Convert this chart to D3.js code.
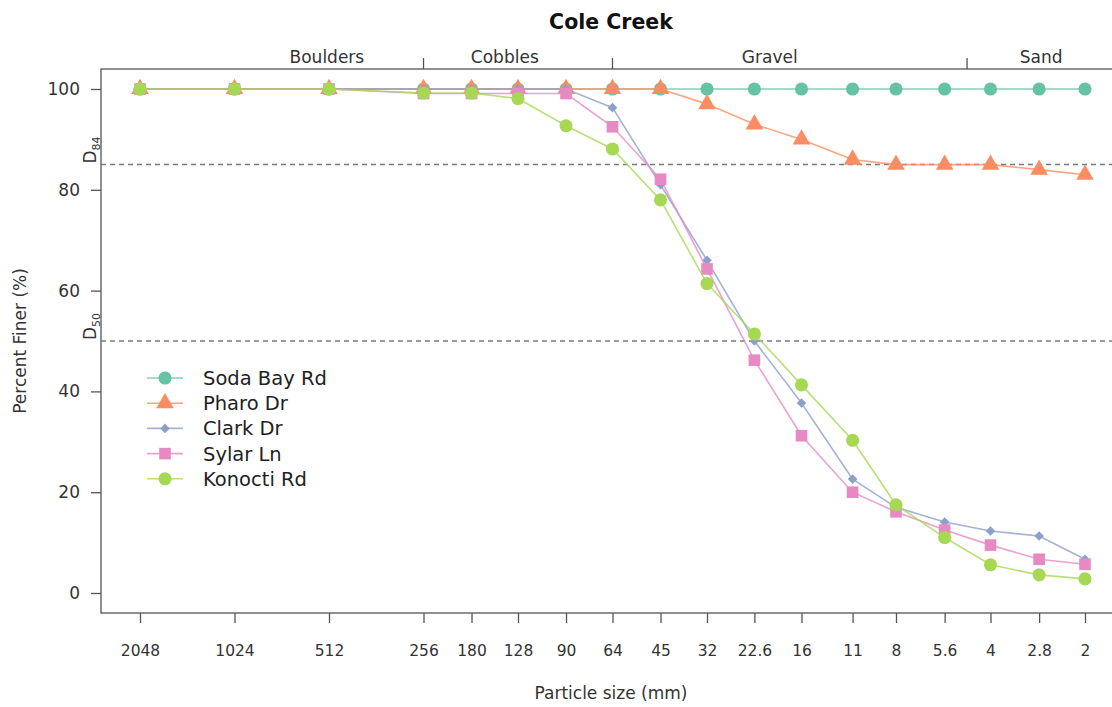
<!DOCTYPE html>
<html>
<head>
<meta charset="utf-8">
<script src="https://cdn.jsdelivr.net/npm/d3@7"></script>
<style>
  html, body { margin: 0; padding: 0; background: #fff; }
  svg { display: block; font-family: "DejaVu Sans", sans-serif; }
</style>
</head>
<body>
<svg id="chart" width="1112" height="707"></svg>
<script>
// Sieve sizes (mm), coarse to fine
const sizes = [2048, 1024, 512, 256, 180, 128, 90, 64, 45, 32, 22.6, 16, 11, 8, 5.6, 4, 2.8, 2];
const sizeLabels = ["2048", "1024", "512", "256", "180", "128", "90", "64", "45", "32", "22.6", "16", "11", "8", "5.6", "4", "2.8", "2"];

// Cumulative percent finer at each sieve, per site
const sodaBayRd = [100, 100, 100, 100, 100, 100, 100, 100, 100, 100, 100, 100, 100, 100, 100, 100, 100, 100];
const pharoDr   = [100, 100, 100, 100, 100, 100, 100, 100, 100, 97, 93, 90, 86, 85, 85, 85, 84, 83];
const clarkDr   = [100, 100, 100, 100, 100, 100, 100, 96.3, 81, 66, 50, 37.7, 22.6, 17, 14.1, 12.3, 11.3, 6.7];
const sylarLn   = [100, 100, 100, 99.1, 99.1, 99.1, 99.1, 92.5, 82.1, 64.3, 46.2, 31.2, 20, 16.1, 12.5, 9.5, 6.7, 5.7];
const konoctiRd = [100, 100, 100, 99.2, 99.2, 98.1, 92.7, 88.1, 78, 61.4, 51.4, 41.3, 30.3, 17.5, 11, 5.6, 3.6, 2.8];

const siteNames = ["Soda Bay Rd", "Pharo Dr", "Clark Dr", "Sylar Ln", "Konocti Rd"];
const siteValues = [sodaBayRd, pharoDr, clarkDr, sylarLn, konoctiRd];
const siteColors = ["#66c2a5", "#fc8d62", "#8da0cb", "#e78ac3", "#a6d854"];
const siteShapes = ["circle", "triangle", "diamond", "square", "circle"];

// Size classes along the top edge
const classBreaks = [256, 64, 4.75];
const classNames = ["Boulders", "Cobbles", "Gravel", "Sand"];
const classLabelAt = [520, 141, 20.2, 2.76];

// Reference percentiles
const refLevels = [85, 50];
const refNames = [["D", "84"], ["D", "50"]];

const yTicks = [0, 20, 40, 60, 80, 100];

const svg = d3.select("#chart");
const axisColor = "#555";
const textColor = "#333";

const box = { left: 101, top: 69, bottom: 613, right: 1125 };

const x = d3.scaleLog().domain([2048, 2]).range([140, 1085]);
const y = d3.scaleLinear().domain([0, 100]).range([593, 89]);

// Plot frame
svg.append("rect")
  .attr("x", box.left).attr("y", box.top)
  .attr("width", box.right - box.left).attr("height", box.bottom - box.top)
  .attr("fill", "none").attr("stroke", axisColor).attr("stroke-width", 1.3);

// Title
svg.append("text")
  .attr("x", 611).attr("y", 29)
  .attr("text-anchor", "middle")
  .attr("font-size", 20.5).attr("font-weight", "bold").attr("fill", "#111")
  .text("Cole Creek");

// Bottom axis
const xAxis = d3.axisBottom(x)
  .tickValues(sizes)
  .tickFormat((d, i) => sizeLabels[i])
  .tickSize(10).tickSizeOuter(0).tickPadding(22);
const gx = svg.append("g").attr("transform", `translate(0,${box.bottom})`).call(xAxis);
gx.select(".domain").remove();
gx.selectAll(".tick line").attr("stroke", axisColor).attr("stroke-width", 1.3);
gx.selectAll(".tick text").attr("fill", textColor).attr("font-size", 15.5)
  .attr("font-family", "DejaVu Sans, sans-serif");

// Left axis
const yAxis = d3.axisLeft(y).tickValues(yTicks).tickSize(10).tickSizeOuter(0).tickPadding(11);
const gy = svg.append("g").attr("transform", `translate(${box.left},0)`).call(yAxis);
gy.select(".domain").remove();
gy.selectAll(".tick line").attr("stroke", axisColor).attr("stroke-width", 1.3);
gy.selectAll(".tick text").attr("fill", textColor).attr("font-size", 17)
  .attr("font-family", "DejaVu Sans, sans-serif");

// Axis titles
svg.append("text")
  .attr("x", 611).attr("y", 699)
  .attr("text-anchor", "middle").attr("font-size", 17).attr("fill", textColor)
  .text("Particle size (mm)");
svg.append("text")
  .attr("transform", "translate(26,341) rotate(-90)")
  .attr("text-anchor", "middle").attr("font-size", 17).attr("fill", textColor)
  .text("Percent Finer (%)");

// Size class ticks and names above the frame
svg.append("g").selectAll("line").data(classBreaks).join("line")
  .attr("x1", d => x(d)).attr("x2", d => x(d))
  .attr("y1", box.top - 11).attr("y2", box.top)
  .attr("stroke", axisColor).attr("stroke-width", 1.3);
svg.append("g").selectAll("text").data(classNames).join("text")
  .attr("x", (d, i) => x(classLabelAt[i])).attr("y", 63)
  .attr("text-anchor", "middle").attr("font-size", 17).attr("fill", textColor)
  .text(d => d);

// Percentile reference lines
svg.append("g").selectAll("line").data(refLevels).join("line")
  .attr("x1", box.left).attr("x2", box.right)
  .attr("y1", d => y(d)).attr("y2", d => y(d))
  .attr("stroke", "#7a7a7a").attr("stroke-width", 1.5)
  .attr("stroke-dasharray", "5,4");
const refText = svg.append("g").selectAll("text").data(refLevels).join("text")
  .attr("transform", d => `translate(96,${y(d) - 1}) rotate(-90)`)
  .attr("font-size", 17).attr("fill", textColor);
refText.append("tspan").text((d, i) => refNames[i][0]);
refText.append("tspan").attr("font-size", 11).attr("dy", 4).text((d, i) => refNames[i][1]);

// Marker factory
function marker(shape) {
  switch (shape) {
    case "triangle": return d3.symbol(d3.symbolTriangle, 135)();
    case "square":   return d3.symbol(d3.symbolSquare, 135)();
    case "diamond":  return d3.symbol(d3.symbolSquare, 46)();
    default:         return d3.symbol(d3.symbolCircle, 135)();
  }
}
function markerRotation(shape) { return shape === "diamond" ? " rotate(45)" : ""; }

const line = d3.line().x(d => x(d[0])).y(d => y(d[1]));

// Series: lines then markers, one site at a time
siteValues.forEach((vals, s) => {
  const pts = sizes.map((sz, i) => [sz, vals[i]]);
  const g = svg.append("g");
  g.append("path")
    .attr("d", line(pts))
    .attr("fill", "none")
    .attr("stroke", siteColors[s]).attr("stroke-width", 1.6).attr("stroke-opacity", 0.8);
  g.selectAll("path.pt").data(pts).join("path")
    .attr("class", "pt")
    .attr("d", marker(siteShapes[s]))
    .attr("transform", d => `translate(${x(d[0])},${y(d[1])})${markerRotation(siteShapes[s])}`)
    .attr("fill", siteColors[s]);
});

// Legend
const legend = svg.append("g");
siteNames.forEach((name, i) => {
  const ly = 378 + i * 25.2;
  legend.append("line")
    .attr("x1", 147).attr("x2", 183).attr("y1", ly).attr("y2", ly)
    .attr("stroke", siteColors[i]).attr("stroke-width", 1.6).attr("stroke-opacity", 0.8);
  legend.append("path")
    .attr("d", marker(siteShapes[i]))
    .attr("transform", `translate(165,${ly})${markerRotation(siteShapes[i])}`)
    .attr("fill", siteColors[i]);
  legend.append("text")
    .attr("x", 203).attr("y", ly + 7)
    .attr("font-size", 19.5).attr("fill", "#222")
    .text(name);
});
</script>
</body>
</html>
